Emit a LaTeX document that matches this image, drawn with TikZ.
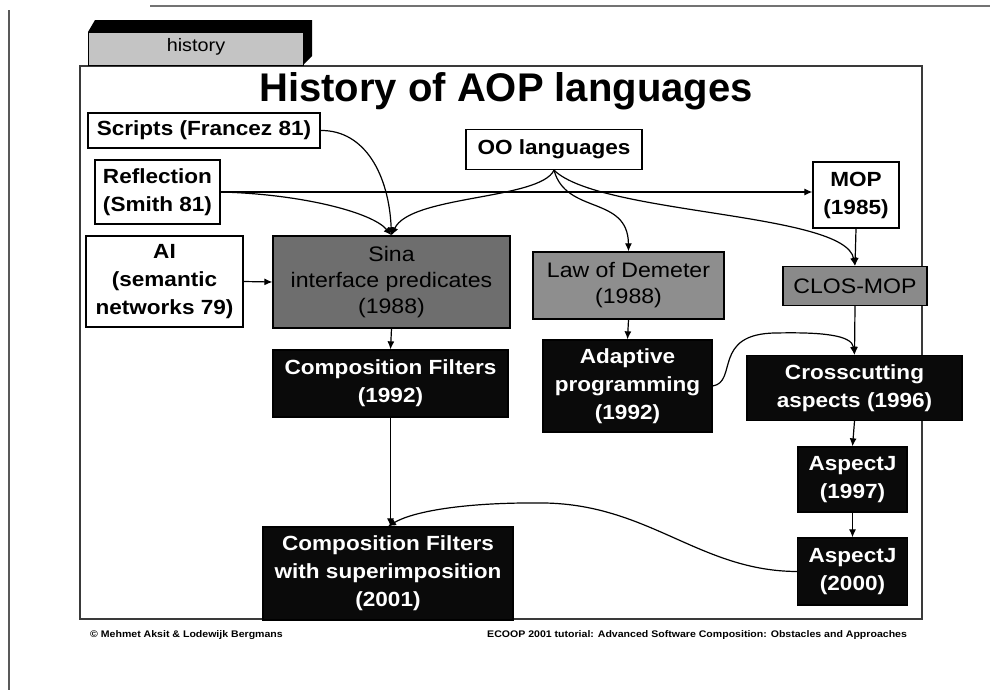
\documentclass[tikz,border=0pt]{standalone}
\usepackage{fontspec}
\setmainfont{Liberation Sans}[FakeStretch=1.1]
\newfontfamily\titlefont{Liberation Sans}
\usetikzlibrary{arrows.meta}
\definecolor{sinagray}{HTML}{6E6E6E}
\definecolor{lodgray}{HTML}{8E8E8E}
\definecolor{closgray}{HTML}{8A8A8A}
\definecolor{tabgray}{HTML}{C4C4C4}
\definecolor{framegray}{HTML}{3A3A3A}
\tikzset{
  box/.style={draw=black, line width=1.3pt, align=center, inner sep=0pt,
    font=\fontsize{20.5}{28}\selectfont\bfseries},
  wbox/.style={box, fill=white},
  gbox/.style={box, font=\fontsize{21}{26}\selectfont},
  bbox/.style={box, fill=black!96, text=white},
  arr/.style={-{Latex[length=8pt,width=7pt]}, line width=1.2pt},
  foot/.style={font=\fontsize{9.6}{11}\selectfont\bfseries, inner sep=0pt, anchor=base west}
}
\begin{document}
\begin{tikzpicture}[x=1pt,y=-1pt]
\useasboundingbox (0,0) rectangle (990,696);
\fill[white] (0,0) rectangle (990,696);
% page edges
\draw[line width=2pt, black!65] (9,10) -- (9,690);
\draw[line width=2.5pt, black!55] (150,6) -- (990,6);
% slide frame
\draw[framegray, line width=1.3pt] (80,66) rectangle (922,619);
% tab
\fill[black] (88,32) -- (95,20) -- (312,20) -- (312,56) -- (303,65) -- (303,32) -- cycle;
\filldraw[fill=tabgray, draw=black, line width=0.8pt] (88,32) rectangle (303,65);
\node[font=\fontsize{18}{20}\selectfont] (tab) at (196,47) {history};
% title
\node[font=\titlefont\fontsize{40}{44}\selectfont\bfseries, anchor=base, inner sep=0pt] (title) at (506,101) {History of AOP languages};

% nodes
\node[wbox, minimum width=232pt, minimum height=35pt] (scripts) at (204,130.5) {Scripts (Francez 81)};
\node[wbox, minimum width=125pt, minimum height=64pt] (refl) at (157.5,192) {Reflection\\(Smith 81)};
\node[wbox, minimum width=157pt, minimum height=91pt] (ai) at (164.5,281.5) {AI\\(semantic\\networks 79)};
\node[gbox, fill=sinagray, minimum width=237pt, minimum height=92pt] (sina) at (391.5,282) {Sina\\interface predicates\\(1988)};
\node[wbox, minimum width=176pt, minimum height=40pt] (oo) at (554,149.5) {OO languages};
\node[wbox, minimum width=86pt, minimum height=66pt] (mop) at (856,195) {MOP\\(1985)};
\node[gbox, fill=lodgray, minimum width=191pt, minimum height=67pt] (lod) at (628.5,285.5) {Law of Demeter\\(1988)};
\node[gbox, fill=closgray, minimum width=144pt, minimum height=39pt] (clos) at (855,286) {CLOS-MOP};
\node[bbox, minimum width=235pt, minimum height=67pt] (cf92) at (390.5,383.5) {Composition Filters\\(1992)};
\node[bbox, minimum width=169pt, minimum height=92pt] (adapt) at (627.5,386) {Adaptive\\programming\\(1992)};
\node[bbox, minimum width=215pt, minimum height=65pt] (cross) at (854.5,388) {Crosscutting\\aspects (1996)};
\node[bbox, minimum width=109pt, minimum height=65pt] (aj97) at (852.5,479.5) {AspectJ\\(1997)};
\node[bbox, minimum width=110pt, minimum height=67pt] (aj00) at (852.5,571.5) {AspectJ\\(2000)};
\node[bbox, minimum width=250pt, minimum height=93pt] (cfsup) at (388,573.5) {Composition Filters\\with superimposition\\(2001)};

% connectors
\draw[arr] (scripts.east) .. controls (365,130) and (389,175) .. (sina.north);
\draw[arr] (refl.east) .. controls (300,194) and (372,212) .. (sina.north);
\draw[arr] (oo.south) .. controls (540,200) and (410,195) .. (sina.north);
\draw[arr] (refl.east) -- (refl.east -| mop.west);
\draw[arr] (oo.south) .. controls (566,215) and (628,195) .. (lod.north);
\draw[arr] (oo.south) .. controls (600,215) and (845,212) .. (clos.north);
\draw[arr] (mop.south) -- (clos.north);
\draw[arr] (ai.east) -- (sina.west);
\draw[arr] (sina.south) -- (cf92.north);
\draw[arr] (lod.south) -- (adapt.north);
\draw[arr] (clos.south) -- (cross.north);
\draw[arr] (adapt.east) .. controls (738,382) and (712,334) .. (775,333) .. controls (822,332) and (852,335) .. (cross.north);
\draw[arr] (cross.south) -- (aj97.north);
\draw[arr] (aj97.south) -- (aj00.north);
\draw[arr] (cf92.south) -- (cf92.south |- cfsup.north);
\draw[arr] (aj00.west) .. controls (700,571) and (650,505) .. (545,503) .. controls (462,502) and (412,512) .. (cfsup.north);

% footer
\node[foot] (fl) at (90,637) {© Mehmet Aksit \& Lodewijk Bergmans};
\node[foot] (fr) at (487,637) {ECOOP 2001 tutorial: Advanced Software Composition: Obstacles and Approaches};
\end{tikzpicture}
\end{document}
